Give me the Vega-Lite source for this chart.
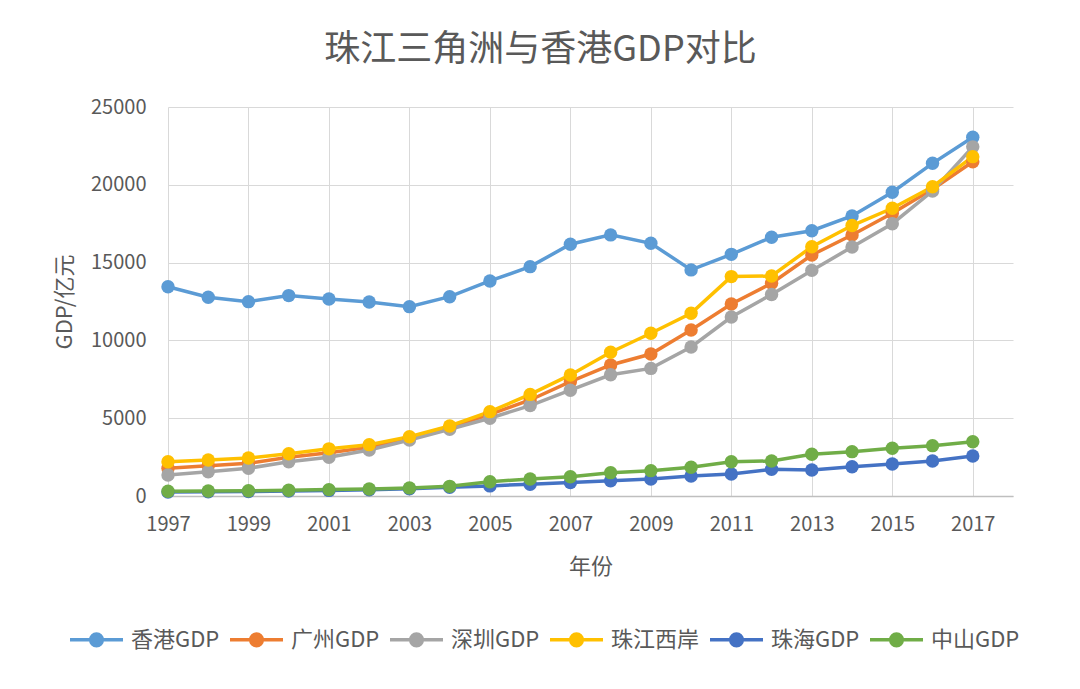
{
  "$schema": "https://vega.github.io/schema/vega-lite/v6.json",
  "autosize": "none",
  "width": 845,
  "height": 389,
  "padding": {"left": 168, "top": 107, "right": 67, "bottom": 193},
  "background": "#ffffff",
  "title": {
    "text": "珠江三角洲与香港GDP对比",
    "font": "Noto Sans CJK SC",
    "fontSize": 36,
    "fontWeight": "normal",
    "color": "#595959",
    "anchor": "middle",
    "frame": "group",
    "dx": -50,
    "offset": 28
  },
  "config": {
    "view": {"stroke": null},
    "axis": {
      "labelFont": "Noto Sans CJK SC",
      "labelFontSize": 20,
      "labelColor": "#595959",
      "titleFont": "Noto Sans CJK SC",
      "titleFontSize": 22,
      "titleFontWeight": "normal",
      "titleColor": "#595959",
      "gridColor": "#d9d9d9",
      "gridWidth": 1,
      "ticks": false
    },
    "legend": {
      "labelFont": "Noto Sans CJK SC",
      "labelFontSize": 22,
      "labelColor": "#595959"
    }
  },
  "data": {
    "values": [
      {"year": 1997, "series": "香港GDP", "gdp": 13450},
      {"year": 1998, "series": "香港GDP", "gdp": 12770},
      {"year": 1999, "series": "香港GDP", "gdp": 12490},
      {"year": 2000, "series": "香港GDP", "gdp": 12880},
      {"year": 2001, "series": "香港GDP", "gdp": 12660},
      {"year": 2002, "series": "香港GDP", "gdp": 12470},
      {"year": 2003, "series": "香港GDP", "gdp": 12170},
      {"year": 2004, "series": "香港GDP", "gdp": 12810},
      {"year": 2005, "series": "香港GDP", "gdp": 13820},
      {"year": 2006, "series": "香港GDP", "gdp": 14740},
      {"year": 2007, "series": "香港GDP", "gdp": 16180},
      {"year": 2008, "series": "香港GDP", "gdp": 16780},
      {"year": 2009, "series": "香港GDP", "gdp": 16240},
      {"year": 2010, "series": "香港GDP", "gdp": 14530},
      {"year": 2011, "series": "香港GDP", "gdp": 15530},
      {"year": 2012, "series": "香港GDP", "gdp": 16630},
      {"year": 2013, "series": "香港GDP", "gdp": 17050},
      {"year": 2014, "series": "香港GDP", "gdp": 18000},
      {"year": 2015, "series": "香港GDP", "gdp": 19520},
      {"year": 2016, "series": "香港GDP", "gdp": 21380},
      {"year": 2017, "series": "香港GDP", "gdp": 23060},
      {"year": 1997, "series": "广州GDP", "gdp": 1780},
      {"year": 1998, "series": "广州GDP", "gdp": 1950},
      {"year": 1999, "series": "广州GDP", "gdp": 2100},
      {"year": 2000, "series": "广州GDP", "gdp": 2485},
      {"year": 2001, "series": "广州GDP", "gdp": 2785},
      {"year": 2002, "series": "广州GDP", "gdp": 3130},
      {"year": 2003, "series": "广州GDP", "gdp": 3705},
      {"year": 2004, "series": "广州GDP", "gdp": 4390},
      {"year": 2005, "series": "广州GDP", "gdp": 5250},
      {"year": 2006, "series": "广州GDP", "gdp": 6170},
      {"year": 2007, "series": "广州GDP", "gdp": 7350},
      {"year": 2008, "series": "广州GDP", "gdp": 8420},
      {"year": 2009, "series": "广州GDP", "gdp": 9125},
      {"year": 2010, "series": "广州GDP", "gdp": 10670},
      {"year": 2011, "series": "广州GDP", "gdp": 12340},
      {"year": 2012, "series": "广州GDP", "gdp": 13670},
      {"year": 2013, "series": "广州GDP", "gdp": 15490},
      {"year": 2014, "series": "广州GDP", "gdp": 16775},
      {"year": 2015, "series": "广州GDP", "gdp": 18170},
      {"year": 2016, "series": "广州GDP", "gdp": 19710},
      {"year": 2017, "series": "广州GDP", "gdp": 21485},
      {"year": 1997, "series": "深圳GDP", "gdp": 1350},
      {"year": 1998, "series": "深圳GDP", "gdp": 1560},
      {"year": 1999, "series": "深圳GDP", "gdp": 1780},
      {"year": 2000, "series": "深圳GDP", "gdp": 2205},
      {"year": 2001, "series": "深圳GDP", "gdp": 2485},
      {"year": 2002, "series": "深圳GDP", "gdp": 2955},
      {"year": 2003, "series": "深圳GDP", "gdp": 3600},
      {"year": 2004, "series": "深圳GDP", "gdp": 4290},
      {"year": 2005, "series": "深圳GDP", "gdp": 5000},
      {"year": 2006, "series": "深圳GDP", "gdp": 5810},
      {"year": 2007, "series": "深圳GDP", "gdp": 6800},
      {"year": 2008, "series": "深圳GDP", "gdp": 7790},
      {"year": 2009, "series": "深圳GDP", "gdp": 8200},
      {"year": 2010, "series": "深圳GDP", "gdp": 9580},
      {"year": 2011, "series": "深圳GDP", "gdp": 11500},
      {"year": 2012, "series": "深圳GDP", "gdp": 12950},
      {"year": 2013, "series": "深圳GDP", "gdp": 14500},
      {"year": 2014, "series": "深圳GDP", "gdp": 16000},
      {"year": 2015, "series": "深圳GDP", "gdp": 17500},
      {"year": 2016, "series": "深圳GDP", "gdp": 19600},
      {"year": 2017, "series": "深圳GDP", "gdp": 22440},
      {"year": 1997, "series": "珠江西岸", "gdp": 2205},
      {"year": 1998, "series": "珠江西岸", "gdp": 2315},
      {"year": 1999, "series": "珠江西岸", "gdp": 2440},
      {"year": 2000, "series": "珠江西岸", "gdp": 2720},
      {"year": 2001, "series": "珠江西岸", "gdp": 3030},
      {"year": 2002, "series": "珠江西岸", "gdp": 3300},
      {"year": 2003, "series": "珠江西岸", "gdp": 3810},
      {"year": 2004, "series": "珠江西岸", "gdp": 4500},
      {"year": 2005, "series": "珠江西岸", "gdp": 5420},
      {"year": 2006, "series": "珠江西岸", "gdp": 6530},
      {"year": 2007, "series": "珠江西岸", "gdp": 7780},
      {"year": 2008, "series": "珠江西岸", "gdp": 9240},
      {"year": 2009, "series": "珠江西岸", "gdp": 10460},
      {"year": 2010, "series": "珠江西岸", "gdp": 11740},
      {"year": 2011, "series": "珠江西岸", "gdp": 14100},
      {"year": 2012, "series": "珠江西岸", "gdp": 14140},
      {"year": 2013, "series": "珠江西岸", "gdp": 16020},
      {"year": 2014, "series": "珠江西岸", "gdp": 17380},
      {"year": 2015, "series": "珠江西岸", "gdp": 18490},
      {"year": 2016, "series": "珠江西岸", "gdp": 19880},
      {"year": 2017, "series": "珠江西岸", "gdp": 21810},
      {"year": 1997, "series": "珠海GDP", "gdp": 250},
      {"year": 1998, "series": "珠海GDP", "gdp": 270},
      {"year": 1999, "series": "珠海GDP", "gdp": 290},
      {"year": 2000, "series": "珠海GDP", "gdp": 320},
      {"year": 2001, "series": "珠海GDP", "gdp": 360},
      {"year": 2002, "series": "珠海GDP", "gdp": 400},
      {"year": 2003, "series": "珠海GDP", "gdp": 470},
      {"year": 2004, "series": "珠海GDP", "gdp": 560},
      {"year": 2005, "series": "珠海GDP", "gdp": 650},
      {"year": 2006, "series": "珠海GDP", "gdp": 760},
      {"year": 2007, "series": "珠海GDP", "gdp": 860},
      {"year": 2008, "series": "珠海GDP", "gdp": 985},
      {"year": 2009, "series": "珠海GDP", "gdp": 1090},
      {"year": 2010, "series": "珠海GDP", "gdp": 1285},
      {"year": 2011, "series": "珠海GDP", "gdp": 1415},
      {"year": 2012, "series": "珠海GDP", "gdp": 1715},
      {"year": 2013, "series": "珠海GDP", "gdp": 1670},
      {"year": 2014, "series": "珠海GDP", "gdp": 1885},
      {"year": 2015, "series": "珠海GDP", "gdp": 2055},
      {"year": 2016, "series": "珠海GDP", "gdp": 2250},
      {"year": 2017, "series": "珠海GDP", "gdp": 2570},
      {"year": 1997, "series": "中山GDP", "gdp": 300},
      {"year": 1998, "series": "中山GDP", "gdp": 320},
      {"year": 1999, "series": "中山GDP", "gdp": 340},
      {"year": 2000, "series": "中山GDP", "gdp": 370},
      {"year": 2001, "series": "中山GDP", "gdp": 410},
      {"year": 2002, "series": "中山GDP", "gdp": 450},
      {"year": 2003, "series": "中山GDP", "gdp": 520},
      {"year": 2004, "series": "中山GDP", "gdp": 620},
      {"year": 2005, "series": "中山GDP", "gdp": 920},
      {"year": 2006, "series": "中山GDP", "gdp": 1090},
      {"year": 2007, "series": "中山GDP", "gdp": 1240},
      {"year": 2008, "series": "中山GDP", "gdp": 1500},
      {"year": 2009, "series": "中山GDP", "gdp": 1630},
      {"year": 2010, "series": "中山GDP", "gdp": 1845},
      {"year": 2011, "series": "中山GDP", "gdp": 2205},
      {"year": 2012, "series": "中山GDP", "gdp": 2250},
      {"year": 2013, "series": "中山GDP", "gdp": 2680},
      {"year": 2014, "series": "中山GDP", "gdp": 2850},
      {"year": 2015, "series": "中山GDP", "gdp": 3065},
      {"year": 2016, "series": "中山GDP", "gdp": 3235},
      {"year": 2017, "series": "中山GDP", "gdp": 3490}
    ]
  },
  "mark": {
    "type": "line",
    "strokeWidth": 3.5,
    "point": {"filled": true, "size": 180, "opacity": 1}
  },
  "encoding": {
    "x": {
      "field": "year",
      "type": "quantitative",
      "scale": {"domain": [1997, 2018], "nice": false, "zero": false},
      "axis": {
        "values": [1997, 1999, 2001, 2003, 2005, 2007, 2009, 2011, 2013, 2015, 2017],
        "format": "d",
        "title": "年份",
        "labelFlush": false,
        "labelPadding": 18,
        "titlePadding": 22,
        "domainColor": "#bfbfbf",
        "domainWidth": 1.5
      }
    },
    "y": {
      "field": "gdp",
      "type": "quantitative",
      "scale": {"domain": [0, 25000], "nice": false},
      "axis": {
        "values": [0, 5000, 10000, 15000, 20000, 25000],
        "format": "d",
        "title": "GDP/亿元",
        "domain": false,
        "labelFlush": false,
        "labelPadding": 22,
        "titlePadding": 14
      }
    },
    "color": {
      "field": "series",
      "type": "nominal",
      "sort": ["香港GDP", "广州GDP", "深圳GDP", "珠江西岸", "珠海GDP", "中山GDP"],
      "scale": {
        "domain": ["香港GDP", "广州GDP", "深圳GDP", "珠江西岸", "珠海GDP", "中山GDP"],
        "range": ["#5B9BD5", "#ED7D31", "#A5A5A5", "#FFC000", "#4472C4", "#70AD47"]
      },
      "legend": {
        "title": null,
        "orient": "none",
        "legendX": -100,
        "legendY": 504,
        "direction": "horizontal",
        "symbolType": "M-1,0H1M-0.22,0A0.22,0.22 0 1 1 0.22,0A0.22,0.22 0 1 1 -0.22,0Z",
        "symbolSize": 2809,
        "symbolStrokeWidth": 3.5,
        "labelOffset": 6,
        "columnPadding": 3,
        "encode": {
          "symbols": {
            "update": {
              "fill": {"scale": "color", "field": "value"},
              "stroke": {"scale": "color", "field": "value"},
              "opacity": {"value": 1}
            }
          }
        }
      }
    }
  }
}
